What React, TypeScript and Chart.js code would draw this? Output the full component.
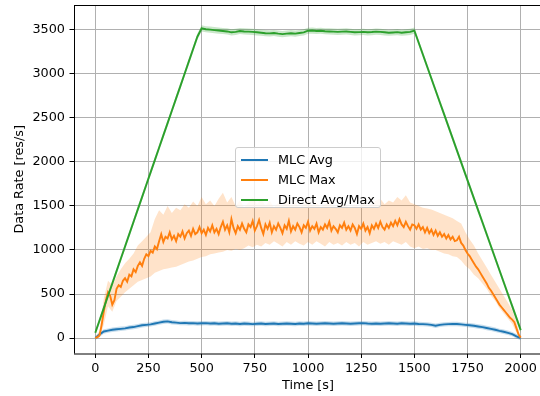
import React, { useEffect, useRef } from 'react';
import { Chart, registerables } from 'chart.js';
Chart.register(...registerables);

// ---- data ----
const T20 = [0,20,40,60,80,100,120,140,160,180,200,220,240,260,280,300,320,340,360,380,400,420,440,460,480,500,520,540,560,580,600,620,640,660,680,700,720,740,760,780,800,820,840,860,880,900,920,940,960,980,1000,1020,1040,1060,1080,1100,1120,1140,1160,1180,1200,1220,1240,1260,1280,1300,1320,1340,1360,1380,1400,1420,1440,1460,1480,1500,1520,1540,1560,1580,1600,1620,1640,1660,1680,1700,1720,1740,1760,1780,1800,1820,1840,1860,1880,1900,1920,1940,1960,1980,2000];
const T10 = [0,10,20,30,40,50,60,70,80,90,100,110,120,130,140,150,160,170,180,190,200,210,220,230,240,250,260,270,280,290,300,310,320,330,340,350,360,370,380,390,400,410,420,430,440,450,460,470,480,490,500,510,520,530,540,550,560,570,580,590,600,610,620,630,640,650,660,670,680,690,700,710,720,730,740,750,760,770,780,790,800,810,820,830,840,850,860,870,880,890,900,910,920,930,940,950,960,970,980,990,1000,1010,1020,1030,1040,1050,1060,1070,1080,1090,1100,1110,1120,1130,1140,1150,1160,1170,1180,1190,1200,1210,1220,1230,1240,1250,1260,1270,1280,1290,1300,1310,1320,1330,1340,1350,1360,1370,1380,1390,1400,1410,1420,1430,1440,1450,1460,1470,1480,1490,1500,1510,1520,1530,1540,1550,1560,1570,1580,1590,1600,1610,1620,1630,1640,1650,1660,1670,1680,1690,1700,1710,1720,1730,1740,1750,1760,1770,1780,1790,1800,1810,1820,1830,1840,1850,1860,1870,1880,1890,1900,1910,1920,1930,1940,1950,1960,1970,1980,1990,2000];

const MLC_AVG = [0,40,75,85,95,100,105,110,120,125,135,145,150,155,165,175,185,190,180,175,170,172,168,170,165,168,
  170,165,168,162,165,168,163,165,160,165,
  162,158,162,165,160,162,165,160,163,165,
  162,160,165,163,168,
  165,162,165,168,165,163,165,168,165,163,
  165,168,170,165,163,165,162,165,168,165,
  163,168,165,163,165,
  160,158,155,150,140,150,155,158,160,160,
  155,150,145,140,132,125,115,105,95,82,
  72,60,45,20,0];
const MLC_AVG_SPREAD = 25;

const MLC_MAX = [
  0,10,30,150,300,430,520,480,380,430,
  560,600,580,650,680,640,720,700,780,750,
  820,860,820,900,950,930,990,970,1040,1010,
  1100,1180,1090,1150,1130,1200,1120,1160,1100,1180,
  1150,1210,1130,1190,1220,1160,1240,1180,1200,1260,
  1190,1230,1170,1250,1210,1280,1200,1240,1180,1260,
  1320,1230,1280,1200,1350,1250,1190,1270,1230,1300,
  1240,1200,1290,1260,1330,1220,1270,1340,1250,1180,
  1290,1240,1310,1200,1270,1230,1300,1250,1190,1280,
  1240,1330,1210,1270,1230,1300,1260,1200,1280,1250,
  1320,1220,1270,1240,1300,1200,1260,1230,1290,1250,
  1320,1220,1270,1240,1200,1280,1250,1310,1230,1270,
  1220,1290,1250,1180,1270,1240,1300,1220,1260,1190,
  1280,1240,1300,1250,1320,1260,1230,1290,1250,1310,
  1270,1330,1280,1350,1290,1260,1320,1270,1230,1290,
  1280,1240,1290,1230,1260,1200,1250,1190,1230,1170,
  1220,1160,1200,1150,1180,1130,1170,1120,1150,1100,
  1110,1150,1080,1050,1000,960,930,890,850,810,
  780,740,700,660,620,570,540,500,460,420,
  380,350,320,290,260,230,210,180,110,40,
  5];
const MLC_MAX_HIGH = [
  10,80,450,650,600,700,780,850,900,960,
  1050,1100,1150,1200,1350,1450,1400,1500,1420,1480,
  1450,1520,1480,1550,1500,1600,1520,1560,1500,1580,
  1650,1540,1600,1500,1560,1480,1540,1600,1520,1580,
  1500,1560,1480,1540,1500,1580,1500,1540,1480,1520,
  1560,1500,1540,1480,1520,1560,1500,1480,1530,1500,
  1480,1520,1480,1540,1500,1520,1560,1580,1520,1560,
  1540,1600,1560,1620,1540,1520,1500,1480,1470,1460,
  1440,1420,1400,1380,1360,1330,1300,1200,1120,1050,
  960,880,800,720,640,560,480,400,320,180,
  10];
const MLC_MAX_LOW = [
  0,5,150,360,300,420,470,520,560,600,
  640,660,680,700,740,760,780,790,800,810,
  830,850,870,880,900,920,930,950,960,970,
  980,1000,990,1010,1000,1020,1050,1030,1060,1040,
  1080,1060,1100,1070,1040,1090,1060,1100,1070,1050,
  1090,1060,1100,1070,1040,1090,1060,1080,1050,1090,
  1060,1080,1040,1090,1060,1080,1100,1070,1090,1060,
  1100,1080,1060,1090,1040,1020,1040,1010,1020,1000,
  1000,980,960,950,930,920,880,820,780,720,
  680,620,560,480,420,340,280,220,160,60,
  0];

const DIRECT = [60,200,340,480,620,760,900,1040,1180,1320,1460,1600,1740,1880,2020,2160,2300,2440,2580,2720,2860,3000,3140,3280,3420,3515,
  3505,3500,3495,3490,3485,3480,3470,3475,3485,3480,
  3478,3475,3470,3465,3460,3458,3462,3455,3450,3455,
  3460,3455,3462,3470,3488,
  3490,3485,3488,3482,3480,3478,3475,3478,3480,3475,
  3470,3472,3475,3470,3473,3478,3475,3470,3465,3468,
  3472,3465,3470,3475,3490,
  3354,3218,3082,2946,2810,2674,2538,2402,2266,2130,
  1994,1858,1722,1586,1450,1314,1178,1042,906,770,
  634,498,362,226,90];
const DIRECT_SPREAD = 35;

const X_TICKS = [0,250,500,750,1000,1250,1500,1750,2000];
const Y_TICKS = [0,500,1000,1500,2000,2500,3000,3500];
const LEGEND = ['MLC Avg', 'MLC Max', 'Direct Avg/Max'];
const COLORS = ['#1f77b4', '#ff7f0e', '#2ca02c'];

const FONT = 'DejaVu Sans';
const FS = 12.8;

const pts = (xs: number[], ys: number[]) => xs.map((x, i) => ({ x, y: ys[i] }));

export default function App() {
  const ref = useRef<HTMLCanvasElement>(null);
  useEffect(() => {
    const canvas = ref.current!;
    const band = (data: any, color: string, order: number, fill: any) => ({
      data, fill, backgroundColor: color, borderColor: 'transparent', borderWidth: 0,
      pointRadius: 0, tension: 0, order,
    });
    const line = (data: any, color: string, order: number) => ({
      data, fill: false, borderColor: color, borderWidth: 1.9, pointRadius: 0, tension: 0, order,
    });
    const frame = {
      id: 'frame',
      afterDatasetsDraw(chart: any) {
        const { ctx, chartArea } = chart;
        ctx.save();
        ctx.strokeStyle = '#000';
        ctx.lineWidth = 1;
        ctx.beginPath();
        ctx.moveTo(chartArea.left, chartArea.top + 0.5);
        ctx.lineTo(chartArea.right + 5, chartArea.top + 0.5);
        ctx.moveTo(chartArea.left + 0.5, chartArea.top);
        ctx.lineTo(chartArea.left + 0.5, chartArea.bottom);
        ctx.moveTo(chartArea.left, chartArea.bottom + 0.5);
        ctx.lineTo(chartArea.right + 5, chartArea.bottom + 0.5);
        ctx.stroke();
        ctx.restore();
      },
    };
    const chart = new Chart(canvas, {
      type: 'line',
      data: {
        datasets: [
          band(pts(T20, MLC_AVG.map(v => v + MLC_AVG_SPREAD)), 'rgba(31,119,180,0.25)', 6, '+1') as any,
          band(pts(T20, MLC_AVG.map(v => v - MLC_AVG_SPREAD)), 'transparent', 6, false),
          line(pts(T20, MLC_AVG), COLORS[0], 5),
          band(pts(T20, MLC_MAX_HIGH), 'rgba(255,127,14,0.22)', 4, '+1'),
          band(pts(T20, MLC_MAX_LOW), 'transparent', 4, false),
          line(pts(T10, MLC_MAX), COLORS[1], 3),
          band(pts(T20, DIRECT.map(v => v + DIRECT_SPREAD)), 'rgba(44,160,44,0.25)', 2, '+1'),
          band(pts(T20, DIRECT.map(v => v - DIRECT_SPREAD)), 'transparent', 2, false),
          line(pts(T20, DIRECT), COLORS[2], 1),
        ],
      },
      options: {
        responsive: false,
        animation: false,
        devicePixelRatio: 1,
        parsing: false as any,
        layout: { padding: { left: 0, right: 2, top: 5, bottom: 0 } },
        plugins: { legend: { display: false }, tooltip: { enabled: false } },
        scales: {
          x: {
            type: 'linear', min: -100, max: 2100,
            afterBuildTicks: (s: any) => { s.ticks = X_TICKS.map(v => ({ value: v })); },
            afterFit: (s: any) => { s.height = 42.5; s.paddingLeft = 0; s.paddingRight = 0; },
            grid: { color: '#b0b0b0', lineWidth: 1, tickColor: '#000', tickLength: 4.5, drawTicks: true },
            border: { display: false },
            ticks: { color: '#000', font: { family: FONT, size: FS }, padding: 3, maxRotation: 0, autoSkip: false, callback: (v: any) => String(v) },
            title: { display: true, text: 'Time [s]', color: '#000', font: { family: FONT, size: FS }, padding: { top: 0, bottom: 2.3 } },
          },
          y: {
            type: 'linear', min: -175, max: 3780,
            afterBuildTicks: (s: any) => { s.ticks = Y_TICKS.map(v => ({ value: v })); },
            afterFit: (s: any) => { s.width = 74; s.paddingTop = 0; s.paddingBottom = 0; },
            grid: { color: '#b0b0b0', lineWidth: 1, tickColor: '#000', tickLength: 4.5, drawTicks: true },
            border: { display: false },
            ticks: { color: '#000', font: { family: FONT, size: FS }, padding: 4.5, callback: (v: any) => String(v) },
            title: { display: true, text: 'Data Rate [res/s]', color: '#000', font: { family: FONT, size: FS }, padding: { top: 12.3, bottom: 0 } },
          },
        },
      },
      plugins: [frame],
    } as any);
    return () => chart.destroy();
  }, []);

  const legendRows = LEGEND.map((label, i) => (
    <div key={label} style={{ position: 'absolute', left: 0, top: 4 + i * 20, height: 16, width: 145 }}>
      <div style={{ position: 'absolute', left: 5, top: 7, width: 27, height: 2, background: COLORS[i] }} />
      <div style={{ position: 'absolute', left: 42, top: 0, lineHeight: '16px', fontSize: FS, fontFamily: FONT, color: '#000', whiteSpace: 'nowrap' }}>{label}</div>
    </div>
  ));

  return (
    <div style={{ position: 'fixed', left: 0, top: 0, width: 540, height: 396, overflow: 'hidden', background: '#fff' }}>
      <canvas ref={ref} width={544} height={396} style={{ position: 'absolute', left: 0, top: 0, width: 544, height: 396 }} />
      <div style={{ position: 'absolute', left: 235, top: 147, width: 146, height: 61, boxSizing: 'border-box', background: 'rgba(255,255,255,0.8)', border: '1px solid #cccccc', borderRadius: 3 }}>
        {legendRows}
      </div>
    </div>
  );
}
